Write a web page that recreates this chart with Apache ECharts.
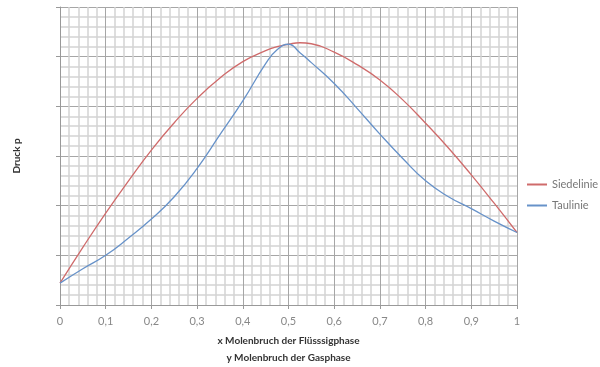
<!DOCTYPE html>
<html>
<head>
<meta charset="utf-8">
<script src="https://cdn.jsdelivr.net/npm/echarts@6/dist/echarts.min.js"></script>
<style>
  html, body { margin: 0; padding: 0; background: #fff; }
  #chart { width: 600px; height: 367px; }
</style>
</head>
<body>
<div id="chart"></div>
<script>
// Molenbruch (x bzw. y) der leichter siedenden Komponente
const molenbruch = [0, 0.05, 0.1, 0.15, 0.2, 0.25, 0.3, 0.35, 0.4, 0.45, 0.475, 0.5,
                    0.525, 0.55, 0.6, 0.65, 0.7, 0.75, 0.8, 0.85, 0.9, 0.95, 1];
// Druck auf der Siedelinie (relative Einheiten)
const siedelinie = [0.44, 1.16, 1.85, 2.50, 3.12, 3.67, 4.16, 4.57, 4.90, 5.12, 5.20, 5.25,
                    5.28, 5.26, 5.09, 4.84, 4.53, 4.13, 3.66, 3.16, 2.62, 2.05, 1.46];
// Druck auf der Taulinie (relative Einheiten)
const taulinie = [0.44, 0.73, 1.00, 1.35, 1.73, 2.18, 2.75, 3.43, 4.11, 4.86, 5.14, 5.25,
                  5.08, 4.88, 4.46, 3.96, 3.44, 2.95, 2.50, 2.18, 1.94, 1.69, 1.46];
const xTicks = ['0', '0,1', '0,2', '0,3', '0,4', '0,5', '0,6', '0,7', '0,8', '0,9', '1'];

const pairs = (ys) => molenbruch.map((x, i) => [x, ys[i]]);
const font = 'Lato, "Open Sans", sans-serif';

const chart = echarts.init(document.getElementById('chart'), null, { renderer: 'canvas' });
chart.setOption({
  animation: false,
  backgroundColor: '#fff',
  grid: { left: 60, right: 83, top: 7, bottom: 62, containLabel: false, outerBoundsMode: 'none' },
  legend: {
    orient: 'vertical',
    left: 522,
    top: 174,
    itemGap: 10,
    itemWidth: 20,
    itemHeight: 2,
    icon: 'rect',
    textStyle: { color: '#777', fontSize: 11, fontFamily: font },
    data: ['Siedelinie', 'Taulinie']
  },
  xAxis: {
    type: 'value',
    min: 0, max: 1, interval: 0.1,
    name: 'x Molenbruch der Flüsssigphase\ny Molenbruch der Gasphase',
    nameLocation: 'middle',
    nameGap: 27,
    nameTextStyle: { color: '#333', fontSize: 10, fontWeight: 'bold', fontFamily: font, lineHeight: 17 },
    axisLine: { show: true, lineStyle: { color: '#999', width: 1 } },
    axisTick: { show: true, length: 4, lineStyle: { color: '#999' } },
    axisLabel: {
      color: '#888', fontSize: 11, fontFamily: font, margin: 11,
      formatter: (v) => xTicks[Math.round(v * 10)]
    },
    splitLine: { show: true, lineStyle: { color: '#a6a6a6', width: 1 } },
    minorTick: { show: false, splitNumber: 5 },
    minorSplitLine: { show: true, lineStyle: { color: '#d4d4d4', width: 1.5 } }
  },
  yAxis: {
    type: 'value',
    min: 0, max: 6, interval: 1,
    name: 'Druck p',
    nameLocation: 'middle',
    nameGap: 38,
    nameRotate: 90,
    nameTextStyle: { color: '#333', fontSize: 10, fontWeight: 'bold', fontFamily: font },
    axisLine: { show: true, lineStyle: { color: '#999', width: 1 } },
    axisTick: { show: true, length: 4, lineStyle: { color: '#999' } },
    axisLabel: { show: false },
    splitLine: { show: true, lineStyle: { color: '#a6a6a6', width: 1 } },
    minorTick: { show: false, splitNumber: 5 },
    minorSplitLine: { show: true, lineStyle: { color: '#d4d4d4', width: 1.5 } }
  },
  series: [
    {
      name: 'Siedelinie',
      type: 'line',
      data: pairs(siedelinie),
      smooth: 0.5,
      showSymbol: false,
      itemStyle: { color: '#cf6b6b' },
      lineStyle: { color: '#cf6b6b', width: 1.3 },
      z: 3
    },
    {
      name: 'Taulinie',
      type: 'line',
      data: pairs(taulinie),
      smooth: 0.5,
      showSymbol: false,
      itemStyle: { color: '#6792c9' },
      lineStyle: { color: '#6792c9', width: 1.3 },
      z: 4
    }
  ]
});
</script>
</body>
</html>
